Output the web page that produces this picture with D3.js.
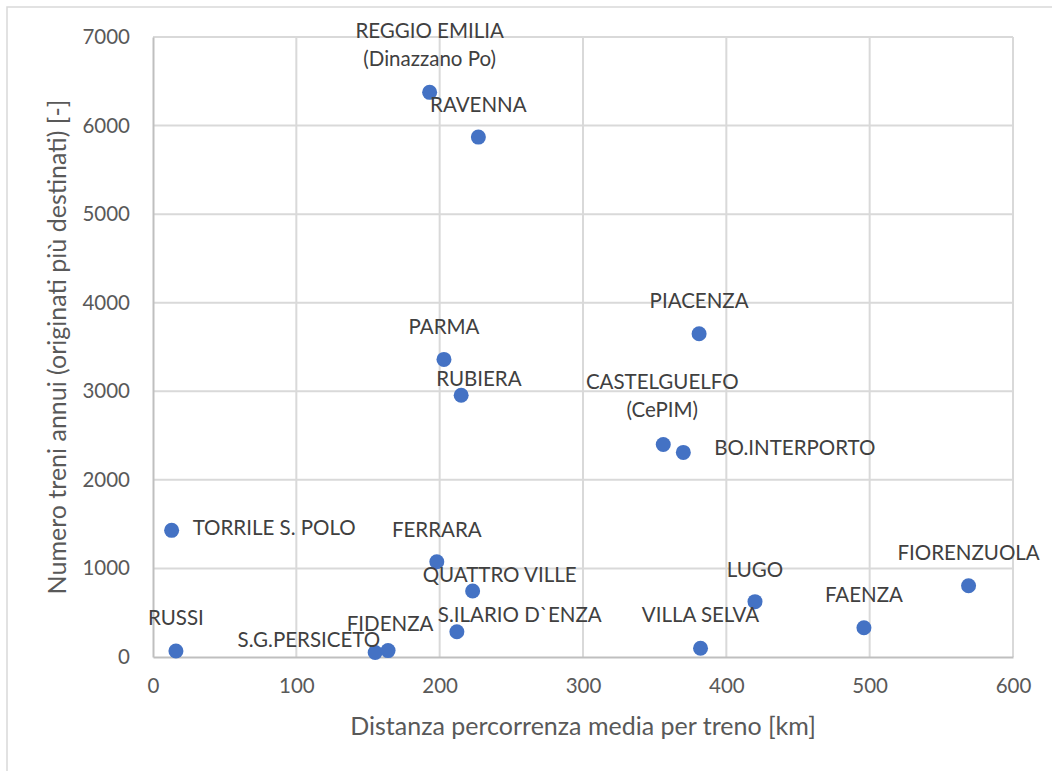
<!DOCTYPE html>
<html>
<head>
<meta charset="utf-8">
<script src="https://cdnjs.cloudflare.com/ajax/libs/d3/7.8.5/d3.min.js"></script>
<style>
  body { margin: 0; background: #fff; }
  text { font-family: Lato, "Open Sans", sans-serif; }
  .tick text { fill: #595959; font-size: 20.5px; }
  .lbl { fill: #404040; font-size: 20.5px; }
  .title { fill: #595959; font-size: 25px; }
</style>
</head>
<body>
<div id="chart"></div>
<script>
// stations
var names = ["REGGIO EMILIA\n(Dinazzano Po)", "RAVENNA", "PARMA", "RUBIERA", "PIACENZA",
  "CASTELGUELFO\n(CePIM)", "BO.INTERPORTO", "TORRILE S. POLO", "FERRARA", "QUATTRO VILLE",
  "S.ILARIO D`ENZA", "RUSSI", "S.G.PERSICETO", "FIDENZA", "VILLA SELVA", "LUGO", "FAENZA", "FIORENZUOLA"];
// average distance per train [km]
var distKm = [193, 227, 203, 215, 381, 356, 370, 13, 198, 223, 212, 16, 155, 164, 382, 420, 496, 569];
// trains per year
var trains = [6375, 5870, 3360, 2955, 3650, 2400, 2310, 1430, 1075, 745, 285, 68, 50, 72, 98, 625, 330, 805];

var xTicks = [0, 100, 200, 300, 400, 500, 600];
var yTicks = [0, 1000, 2000, 3000, 4000, 5000, 6000, 7000];

// label placement relative to the dot (px): anchor, dx, dy of last line
var labelPos = [
  ["middle", 0, -26], ["middle", 0, -25], ["middle", 0, -25], ["start", -25, -9], ["middle", 0, -26],
  ["middle", -1, -27], ["start", 31, 3], ["start", 21, 5], ["middle", 0, -25], ["start", -50, -9],
  ["start", -19, -10], ["middle", 0, -26], ["end", 5, -6], ["middle", 2, -20], ["middle", 0, -26],
  ["middle", 0, -25], ["middle", 0, -26], ["middle", 0, -26]
];

var svgWidth = 1052, svgHeight = 771;
var margin = {top: 37, right: 39, bottom: 114, left: 153};
var width = svgWidth - margin.left - margin.right;
var height = svgHeight - margin.top - margin.bottom;

var svg = d3.select("#chart").append("svg")
    .attr("width", svgWidth)
    .attr("height", svgHeight);

// chart border (runs off the page right and bottom)
svg.append("rect")
    .attr("x", 7).attr("y", 7)
    .attr("width", svgWidth + 20).attr("height", svgHeight + 20)
    .attr("fill", "#fff")
    .attr("stroke", "#d9d9d9")
    .attr("stroke-width", 1.5);

var g = svg.append("g")
    .attr("transform", "translate(" + margin.left + "," + margin.top + ")");

var x = d3.scaleLinear().domain([0, 600]).range([0, width]);
var y = d3.scaleLinear().domain([0, 7000]).range([height, 0]);

// gridlines
g.append("g").selectAll("line").data(xTicks.slice(1)).enter().append("line")
    .attr("x1", x).attr("x2", x)
    .attr("y1", 0).attr("y2", height)
    .attr("stroke", "#d9d9d9").attr("stroke-width", 2);
g.append("g").selectAll("line").data(yTicks.slice(1)).enter().append("line")
    .attr("x1", 0).attr("x2", width)
    .attr("y1", y).attr("y2", y)
    .attr("stroke", "#d9d9d9").attr("stroke-width", 2);

// axes
var xAxis = g.append("g")
    .attr("transform", "translate(0," + height + ")")
    .call(d3.axisBottom(x).tickValues(xTicks).tickFormat(d3.format("d")).tickSize(0).tickPadding(21));
xAxis.select(".domain").attr("stroke", "#bfbfbf").attr("stroke-width", 2);

var yAxis = g.append("g")
    .call(d3.axisLeft(y).tickValues(yTicks).tickFormat(d3.format("d")).tickSize(0).tickPadding(23));
yAxis.select(".domain").attr("stroke", "#bfbfbf").attr("stroke-width", 2);

// axis titles
g.append("text")
    .attr("class", "title")
    .attr("x", width / 2)
    .attr("y", height + 78)
    .attr("text-anchor", "middle")
    .text("Distanza percorrenza media per treno [km]");

g.append("text")
    .attr("class", "title")
    .attr("transform", "translate(" + (-87) + "," + (height / 2) + ") rotate(-90)")
    .attr("text-anchor", "middle")
    .text("Numero treni annui (originati più destinati) [-]");

// points
var idx = d3.range(names.length);
g.selectAll(".dot").data(idx).enter().append("circle")
    .attr("class", "dot")
    .attr("cx", function(i) { return x(distKm[i]); })
    .attr("cy", function(i) { return y(trains[i]); })
    .attr("r", 7.5)
    .attr("fill", "#4472c4");

// data labels
g.selectAll(".lbl").data(idx).enter().append("text")
    .attr("class", "lbl")
    .attr("text-anchor", function(i) { return labelPos[i][0]; })
    .each(function(i) {
      var lines = names[i].split("\n");
      var px = x(distKm[i]) + labelPos[i][1];
      var py = y(trains[i]) + labelPos[i][2];
      var t = d3.select(this);
      lines.forEach(function(l, k) {
        t.append("tspan")
          .attr("x", px)
          .attr("y", py - (lines.length - 1 - k) * 28)
          .text(l);
      });
    });
</script>
</body>
</html>
